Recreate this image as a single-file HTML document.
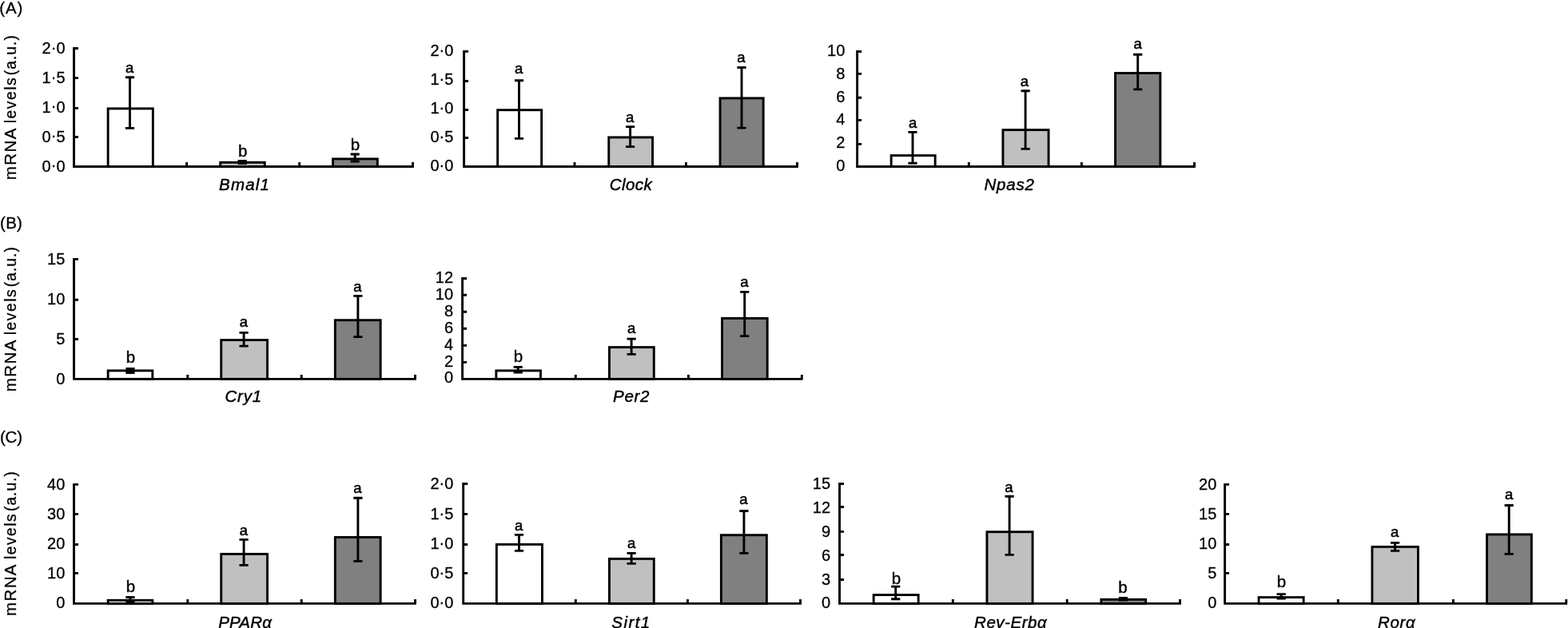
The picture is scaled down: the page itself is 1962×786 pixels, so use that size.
<!DOCTYPE html>
<html lang="en"><head><meta charset="utf-8"><title>mRNA levels</title>
<style>html,body{margin:0;padding:0;background:#fff;}body{width:1962px;height:786px;overflow:hidden;}svg{display:block;}text{font-family:"Liberation Sans",sans-serif;font-size:20px;fill:#000;stroke:#000;stroke-width:0.3px;}.t{font-style:italic;font-size:20.5px;stroke-width:0.45px;}.r{font-size:20.5px;}.la{font-size:18.5px;stroke-width:0.5px;}.lb{font-size:20.5px;stroke-width:0.4px;}.y{font-size:20.5px;}.l{stroke:#000;stroke-width:2.9;fill:none;stroke-linecap:butt;}.b{stroke:#000;stroke-width:2.9;}</style></head><body>
<svg width="1962" height="786" viewBox="0 0 1962 786">
<rect width="1962" height="786" fill="#fff"/>
<text class="r" x="-0.77" y="16.8" letter-spacing="0.94">(A)</text>
<text class="r" x="0" y="286.3" letter-spacing="0.31">(B)</text>
<text class="r" x="0" y="554.4" letter-spacing="-0.25">(C)</text>
<text class="y" transform="translate(20 0) rotate(-90)"><tspan x="-225.2" letter-spacing="1.4" font-size="20.5">mRNA</tspan> <tspan x="-154.2" letter-spacing="1.49" font-size="19.3">levels</tspan> <tspan x="-94.2" letter-spacing="1.01" font-size="19.3">(a.u.)</tspan></text>
<text class="y" transform="translate(20 0) rotate(-90)"><tspan x="-490.2" letter-spacing="1.4" font-size="20.5">mRNA</tspan> <tspan x="-419.2" letter-spacing="1.49" font-size="19.3">levels</tspan> <tspan x="-359.2" letter-spacing="1.01" font-size="19.3">(a.u.)</tspan></text>
<text class="y" transform="translate(20 0) rotate(-90)"><tspan x="-771.05" letter-spacing="1.4" font-size="20.5">mRNA</tspan> <tspan x="-700.05" letter-spacing="1.49" font-size="19.3">levels</tspan> <tspan x="-640.05" letter-spacing="1.01" font-size="19.3">(a.u.)</tspan></text>
<g>
<rect class="b" x="135.15" y="135.9" width="56.2" height="72.6" fill="#ffffff"/>
<rect class="b" x="275.75" y="203.3" width="55.5" height="5.2" fill="#c0c0c0"/>
<rect class="b" x="416.55" y="198.9" width="55.8" height="9.6" fill="#808080"/>
<path class="l" d="M92.55 59.05V208.5H517.8M92.55 60.5H98.05M92.55 97.6H98.05M92.55 135.4H98.05M92.55 171.45H98.05M233.6 208.5V203M374.7 208.5V203M516.5 208.5V203"/>
<path class="l" d="M162.5 96.8V160.4M156.9 96.8H168.1M156.9 160.4H168.1M303.2 201.5V204.6M297.6 201.5H308.8M297.6 204.6H308.8M444.2 193V202M438.6 193H449.8M438.6 202H449.8"/>
<text x="81.5" y="66.8" text-anchor="end">2<tspan dy="-1.3">·</tspan><tspan dy="1.3">0</tspan></text>
<text x="81.5" y="103.9" text-anchor="end">1<tspan dy="-1.3">·</tspan><tspan dy="1.3">5</tspan></text>
<text x="81.5" y="140.7" text-anchor="end">1<tspan dy="-1.3">·</tspan><tspan dy="1.3">0</tspan></text>
<text x="81.5" y="177.7" text-anchor="end">0<tspan dy="-1.3">·</tspan><tspan dy="1.3">5</tspan></text>
<text x="81.5" y="214.7" text-anchor="end">0<tspan dy="-1.3">·</tspan><tspan dy="1.3">0</tspan></text>
<text class="la" x="162.15" y="91" text-anchor="middle">a</text>
<text class="lb" x="303.75" y="195.6" text-anchor="middle">b</text>
<text class="lb" x="444.35" y="187.6" text-anchor="middle">b</text>
<text class="t" x="274.08" y="237.9" letter-spacing="1.17">Bmal1</text>
</g>
<g>
<rect class="b" x="622.65" y="137.7" width="55" height="70.8" fill="#ffffff"/>
<rect class="b" x="761.75" y="171.9" width="54.8" height="36.6" fill="#c0c0c0"/>
<rect class="b" x="901.05" y="122.9" width="54.1" height="85.6" fill="#808080"/>
<path class="l" d="M580.6 62.95V208.5H998.8M580.6 64.4H586.1M580.6 101.5H586.1M580.6 137.5H586.1M580.6 172.45H586.1M719 208.5V203M858.4 208.5V203M997.5 208.5V203"/>
<path class="l" d="M649.5 100.7V173.4M643.9 100.7H655.1M643.9 173.4H655.1M788.6 158.6V183.6M783 158.6H794.2M783 183.6H794.2M928 84.5V160.1M922.4 84.5H933.6M922.4 160.1H933.6"/>
<text x="567.4" y="70" text-anchor="end">2<tspan dy="-1.3">·</tspan><tspan dy="1.3">0</tspan></text>
<text x="567.4" y="106.1" text-anchor="end">1<tspan dy="-1.3">·</tspan><tspan dy="1.3">5</tspan></text>
<text x="567.4" y="142" text-anchor="end">1<tspan dy="-1.3">·</tspan><tspan dy="1.3">0</tspan></text>
<text x="567.4" y="177.8" text-anchor="end">0<tspan dy="-1.3">·</tspan><tspan dy="1.3">5</tspan></text>
<text x="567.4" y="213.9" text-anchor="end">0<tspan dy="-1.3">·</tspan><tspan dy="1.3">0</tspan></text>
<text class="la" x="649.15" y="91.9" text-anchor="middle">a</text>
<text class="la" x="788.25" y="153.1" text-anchor="middle">a</text>
<text class="la" x="927.35" y="77.7" text-anchor="middle">a</text>
<text class="t" x="762.64" y="237.9" letter-spacing="0.47">Clock</text>
</g>
<g>
<rect class="b" x="1115.15" y="194.6" width="55" height="13.9" fill="#ffffff"/>
<rect class="b" x="1254.95" y="162.6" width="57.1" height="45.9" fill="#c0c0c0"/>
<rect class="b" x="1395.55" y="91.5" width="56.3" height="117" fill="#808080"/>
<path class="l" d="M1072.6 63.05V208.5H1495.8M1072.6 64.5H1078.1M1072.6 92.4H1078.1M1072.6 122.3H1078.1M1072.6 150.4H1078.1M1072.6 180.4H1078.1M1212.3 208.5V203M1353.4 208.5V203M1494.5 208.5V203"/>
<path class="l" d="M1142 165.4V204.3M1136.4 165.4H1147.6M1136.4 204.3H1147.6M1283.1 113.7V186.4M1277.5 113.7H1288.7M1277.5 186.4H1288.7M1423.7 68.2V111.9M1418.1 68.2H1429.3M1418.1 111.9H1429.3"/>
<text x="1057.3" y="69.8" text-anchor="end">10</text>
<text x="1057.3" y="98.7" text-anchor="end">8</text>
<text x="1057.3" y="127.7" text-anchor="end">6</text>
<text x="1057.3" y="155.7" text-anchor="end">4</text>
<text x="1057.3" y="184.8" text-anchor="end">2</text>
<text x="1057.3" y="214" text-anchor="end">0</text>
<text class="la" x="1142.15" y="160.1" text-anchor="middle">a</text>
<text class="la" x="1281.95" y="108.1" text-anchor="middle">a</text>
<text class="la" x="1423.55" y="61.2" text-anchor="middle">a</text>
<text class="t" x="1231.57" y="237.9" letter-spacing="0.75">Npas2</text>
</g>
<g>
<rect class="b" x="135.15" y="463.9" width="55.7" height="10.5" fill="#ffffff"/>
<rect class="b" x="276.75" y="425.6" width="57.8" height="48.8" fill="#c0c0c0"/>
<rect class="b" x="419.35" y="400.7" width="56.8" height="73.7" fill="#808080"/>
<path class="l" d="M92.55 322.95V474.4H520.8M92.55 324.4H98.05M92.55 375.3H98.05M92.55 424.5H98.05M234.8 474.4V468.9M377.2 474.4V468.9M519.5 474.4V468.9"/>
<path class="l" d="M163 461.5V466.5M157.4 461.5H168.6M157.4 466.5H168.6M305.1 416.4V433.1M299.5 416.4H310.7M299.5 433.1H310.7M447.9 370.4V421.6M442.3 370.4H453.5M442.3 421.6H453.5"/>
<text x="81.3" y="330.7" text-anchor="end">15</text>
<text x="81.3" y="380.9" text-anchor="end">10</text>
<text x="81.3" y="430.7" text-anchor="end">5</text>
<text x="81.3" y="480.8" text-anchor="end">0</text>
<text class="lb" x="163.35" y="453.8" text-anchor="middle">b</text>
<text class="la" x="304.95" y="409.4" text-anchor="middle">a</text>
<text class="la" x="447.35" y="364.9" text-anchor="middle">a</text>
<text class="t" x="281.39" y="503" letter-spacing="0.83">Cry1</text>
</g>
<g>
<rect class="b" x="620.85" y="463.9" width="55.6" height="10.5" fill="#ffffff"/>
<rect class="b" x="762.45" y="434.6" width="55.8" height="39.8" fill="#c0c0c0"/>
<rect class="b" x="903.55" y="398.4" width="56.6" height="76" fill="#808080"/>
<path class="l" d="M578.6 347.05V474.4H1004.5M578.6 348.5H584.1M578.6 369.3H584.1M578.6 390.3H584.1M578.6 411.3H584.1M578.6 432.4H584.1M578.6 453.4H584.1M720.3 474.4V468.9M861.4 474.4V468.9M1003.3 474.4V468.9"/>
<path class="l" d="M648.2 459.4V466.1M642.6 459.4H653.8M642.6 466.1H653.8M790.1 424.1V443.4M784.5 424.1H795.7M784.5 443.4H795.7M931.7 365.4V420.6M926.1 365.4H937.3M926.1 420.6H937.3"/>
<text x="567.1" y="353.8" text-anchor="end">12</text>
<text x="567.1" y="374.7" text-anchor="end">10</text>
<text x="567.1" y="395.9" text-anchor="end">8</text>
<text x="567.1" y="416.9" text-anchor="end">6</text>
<text x="567.1" y="437.8" text-anchor="end">4</text>
<text x="567.1" y="458.6" text-anchor="end">2</text>
<text x="567.1" y="479" text-anchor="end">0</text>
<text class="lb" x="648.35" y="453.1" text-anchor="middle">b</text>
<text class="la" x="790.25" y="417.3" text-anchor="middle">a</text>
<text class="la" x="931.35" y="359.4" text-anchor="middle">a</text>
<text class="t" x="767.08" y="503" letter-spacing="0.66">Per2</text>
</g>
<g>
<rect class="b" x="135.15" y="751.3" width="55.7" height="4.1" fill="#ffffff"/>
<rect class="b" x="276.75" y="693.4" width="57.8" height="62" fill="#c0c0c0"/>
<rect class="b" x="419.35" y="672.4" width="56.8" height="83" fill="#808080"/>
<path class="l" d="M92.55 604.95V755.4H520.8M92.55 606.4H98.05M92.55 643.4H98.05M92.55 681.45H98.05M92.55 717.4H98.05M234.8 755.4V749.9M377.2 755.4V749.9M519.5 755.4V749.9"/>
<path class="l" d="M163 747.5V753M157.4 747.5H168.6M157.4 753H168.6M305.1 675.4V707.4M299.5 675.4H310.7M299.5 707.4H310.7M447.9 623.2V702.4M442.3 623.2H453.5M442.3 702.4H453.5"/>
<text x="81.3" y="612.9" text-anchor="end">40</text>
<text x="81.3" y="649.9" text-anchor="end">30</text>
<text x="81.3" y="687" text-anchor="end">20</text>
<text x="81.3" y="723.7" text-anchor="end">10</text>
<text x="81.3" y="760.8" text-anchor="end">0</text>
<text class="lb" x="163.35" y="741" text-anchor="middle">b</text>
<text class="la" x="304.95" y="670.1" text-anchor="middle">a</text>
<text class="la" x="447.35" y="616.9" text-anchor="middle">a</text>
<text class="t" x="273.28" y="786" letter-spacing="0.14">PPARα</text>
</g>
<g>
<rect class="b" x="621.35" y="681.4" width="57.1" height="74" fill="#ffffff"/>
<rect class="b" x="762.45" y="699.4" width="55.8" height="56" fill="#c0c0c0"/>
<rect class="b" x="902.35" y="669.7" width="57" height="85.7" fill="#808080"/>
<path class="l" d="M579.7 604.05V755.4H1002.8M579.7 605.5H585.2M579.7 643.4H585.2M579.7 681.45H585.2M579.7 717.4H585.2M720.3 755.4V749.9M860.4 755.4V749.9M1001.5 755.4V749.9"/>
<path class="l" d="M649.5 669.4V689.4M643.9 669.4H655.1M643.9 689.4H655.1M790.1 692.4V705.4M784.5 692.4H795.7M784.5 705.4H795.7M930.9 639.5V692.4M925.3 639.5H936.5M925.3 692.4H936.5"/>
<text x="567.3" y="612" text-anchor="end">2<tspan dy="-1.3">·</tspan><tspan dy="1.3">0</tspan></text>
<text x="567.3" y="649.9" text-anchor="end">1<tspan dy="-1.3">·</tspan><tspan dy="1.3">5</tspan></text>
<text x="567.3" y="686.8" text-anchor="end">1<tspan dy="-1.3">·</tspan><tspan dy="1.3">0</tspan></text>
<text x="567.3" y="723.8" text-anchor="end">0<tspan dy="-1.3">·</tspan><tspan dy="1.3">5</tspan></text>
<text x="567.3" y="760.8" text-anchor="end">0<tspan dy="-1.3">·</tspan><tspan dy="1.3">0</tspan></text>
<text class="la" x="649.15" y="663.9" text-anchor="middle">a</text>
<text class="la" x="790.25" y="686.1" text-anchor="middle">a</text>
<text class="la" x="930.35" y="631.4" text-anchor="middle">a</text>
<text class="t" x="765.36" y="786" letter-spacing="1.41">Sirt1</text>
</g>
<g>
<rect class="b" x="1093.15" y="744.6" width="56" height="10.8" fill="#ffffff"/>
<rect class="b" x="1234.95" y="665.7" width="57.1" height="89.7" fill="#c0c0c0"/>
<rect class="b" x="1377.85" y="750.3" width="55.8" height="5.1" fill="#808080"/>
<path class="l" d="M1050.5 604.05V755.4H1477.8M1050.5 605.5H1056M1050.5 634.45H1056M1050.5 665.4H1056M1050.5 694.5H1056M1050.5 725.5H1056M1192.3 755.4V749.9M1335.2 755.4V749.9M1476.5 755.4V749.9"/>
<path class="l" d="M1120.7 734.1V749.8M1115.1 734.1H1126.3M1115.1 749.8H1126.3M1263.1 621.2V694.4M1257.5 621.2H1268.7M1257.5 694.4H1268.7M1405.4 748.5V751M1399.8 748.5H1411M1399.8 751H1411"/>
<text x="1039.1" y="612" text-anchor="end">15</text>
<text x="1039.1" y="641.9" text-anchor="end">12</text>
<text x="1039.1" y="672.1" text-anchor="end">9</text>
<text x="1039.1" y="701.6" text-anchor="end">6</text>
<text x="1039.1" y="732.2" text-anchor="end">3</text>
<text x="1039.1" y="760.8" text-anchor="end">0</text>
<text class="lb" x="1121.35" y="730.6" text-anchor="middle">b</text>
<text class="la" x="1262.45" y="615.7" text-anchor="middle">a</text>
<text class="lb" x="1405.05" y="741.8" text-anchor="middle">b</text>
<text class="t" x="1219.08" y="786" letter-spacing="0.53">Rev-Erbα</text>
</g>
<g>
<rect class="b" x="1575.05" y="747.6" width="56.1" height="7.8" fill="#ffffff"/>
<rect class="b" x="1716.95" y="684.4" width="57.5" height="71" fill="#c0c0c0"/>
<rect class="b" x="1860.55" y="668.9" width="55.8" height="86.5" fill="#808080"/>
<path class="l" d="M1532.6 604.95V755.4H1961M1532.6 606.4H1538.1M1532.6 643.4H1538.1M1532.6 681.45H1538.1M1532.6 717.4H1538.1M1674.3 755.4V749.9M1818.4 755.4V749.9M1959.8 755.4V749.9"/>
<path class="l" d="M1603.2 743.6V749.1M1597.6 743.6H1608.8M1597.6 749.1H1608.8M1745.6 679.4V689.4M1740 679.4H1751.2M1740 689.4H1751.2M1888.2 632.5V693.4M1882.6 632.5H1893.8M1882.6 693.4H1893.8"/>
<text x="1522.3" y="612.9" text-anchor="end">20</text>
<text x="1522.3" y="649.9" text-anchor="end">15</text>
<text x="1522.3" y="687" text-anchor="end">10</text>
<text x="1522.3" y="723.8" text-anchor="end">5</text>
<text x="1522.3" y="760.8" text-anchor="end">0</text>
<text class="lb" x="1603.35" y="734.8" text-anchor="middle">b</text>
<text class="la" x="1745.25" y="671.9" text-anchor="middle">a</text>
<text class="la" x="1888.05" y="624.9" text-anchor="middle">a</text>
<text class="t" x="1723.98" y="786" letter-spacing="0.7">Rorα</text>
</g>
</svg></body></html>
